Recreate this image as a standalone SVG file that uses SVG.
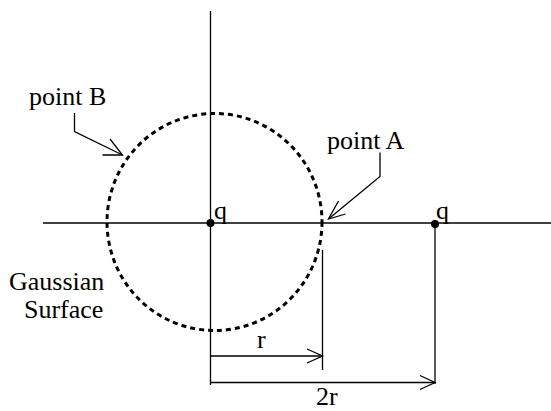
<svg xmlns="http://www.w3.org/2000/svg" width="551" height="411" viewBox="0 0 551 411">
<style>
.ln{stroke:#000;stroke-width:1.3;fill:none}
text{font-family:'Liberation Serif','Times New Roman',serif;font-size:26px;fill:#000}
.dash{stroke:#000;stroke-width:3;fill:none;stroke-dasharray:5 4}
</style>
<rect width="551" height="411" fill="#fff"/>
<g id="connectors">
<line class="ln" x1="43" y1="223" x2="551" y2="223"/>
<line class="ln" x1="210.5" y1="11" x2="210.5" y2="385"/>
<line class="ln" x1="322.5" y1="250" x2="322.5" y2="370"/>
<line class="ln" x1="435" y1="224" x2="435" y2="384"/>
<polyline class="ln" points="74.5,113 74.5,131.5 122.5,155"/>
<polyline class="ln" points="102.5,155 122.5,155 110,139"/>
<polyline class="ln" points="380,152.5 380,176.5 328.5,219"/>
<polyline class="ln" points="338.5,201 328.5,219 345.5,214"/>
<line class="ln" x1="210.5" y1="356" x2="322.5" y2="356"/>
<polyline class="ln" points="307,349 322.5,356 307,363"/>
<line class="ln" x1="210.5" y1="382.5" x2="435" y2="382.5"/>
<polyline class="ln" points="420,375.5 435,382.5 420,389.5"/>
</g>
<g id="gaussian-surface">
<ellipse class="dash" cx="214.5" cy="222" rx="107.5" ry="108.5"/>
<text x="9" y="290">Gaussian</text>
<text x="24" y="318">Surface</text>
</g>
<g id="charge-center">
<circle cx="210.5" cy="223" r="4"/>
<text x="214" y="219">q</text>
</g>
<g id="charge-right">
<circle cx="435" cy="224" r="4"/>
<text x="436" y="219">q</text>
</g>
<g id="point-B"><text x="29" y="105">point B</text></g>
<g id="point-A"><text x="327" y="149">point A</text></g>
<g id="label-r"><text x="257" y="348">r</text></g>
<g id="label-2r"><text x="316" y="405">2r</text></g>
</svg>
